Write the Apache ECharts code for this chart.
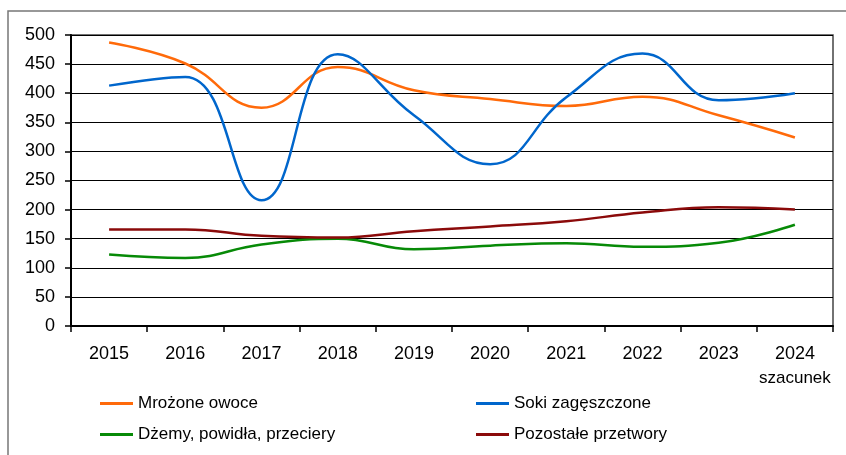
<!DOCTYPE html>
<html><head><meta charset="utf-8">
<script src="https://cdn.jsdelivr.net/npm/echarts@6/dist/echarts.min.js"></script>
<style>html,body{margin:0;padding:0;background:#fff}#c{width:846px;height:455px}</style>
</head><body><div id="c"></div>
<script>
const categories = ['2015','2016','2017','2018','2019','2020','2021','2022','2023','2024'];
const lastNote = 'szacunek';
const yTicks = [0,50,100,150,200,250,300,350,400,450,500];
const mrozone = [487,451,375,445,405,390,378,394,362,324];
const soki = [413,428,216,467,362,278,393,468,388,400];
const dzemy = [123,117,140,150,132,138,142,136,143,174];
const pozostale = [166,166,155,152,163,171,180,195,204,200];
const names = ['Mrożone owoce','Soki zagęszczone','Dżemy, powidła, przeciery','Pozostałe przetwory'];
const colors = ['#FF6A0A','#0066CC','#078A07','#8B0A0A'];

const chart = echarts.init(document.getElementById('c'), null, {renderer:'canvas'});
const font = 'Liberation Sans, Arial, sans-serif';
function s(name, data, color){
  return {name, type:'line', data, smooth:0.45, symbol:'none',
    lineStyle:{color, width:2.5}, itemStyle:{color}};
}
chart.setOption({
  animation:false,
  graphic:[{type:'rect', shape:{x:8,y:11,width:900,height:500},
    style:{fill:'none', stroke:'#777', lineWidth:1.5}, silent:true, z:-1}],
  grid:{left:71, top:35, right:13, height:291, show:true, borderColor:'#444', borderWidth:1.5, containLabel:false},
  xAxis:{type:'category', data:categories, boundaryGap:true,
    axisLine:{lineStyle:{color:'#000', width:2}},
    axisTick:{show:true, length:6, interval:0, lineStyle:{color:'#000', width:1.5}},
    axisLabel:{color:'#000', fontSize:18, fontFamily:font, margin:16, lineHeight:25, interval:0,
      formatter:(v,i)=> i===categories.length-1 ? v+'\n'+'{n|'+lastNote+'}' : v,
      rich:{n:{fontSize:17, fontFamily:font, color:'#000', lineHeight:22}}}},
  yAxis:{type:'value', min:yTicks[0], max:yTicks[yTicks.length-1], interval:50,
    axisLine:{show:true, lineStyle:{color:'#000', width:2}},
    axisTick:{show:true, length:6, lineStyle:{color:'#000', width:1.5}},
    axisLabel:{color:'#000', fontSize:18, fontFamily:font, margin:16},
    splitLine:{lineStyle:{color:'#000', width:1}}},
  legend:[
    {data:[names[0],names[2]], orient:'vertical', left:95, top:390, itemWidth:33, itemHeight:3, icon:'rect', itemGap:14,
      textStyle:{fontSize:17, fontFamily:font, color:'#000'}},
    {data:[names[1],names[3]], orient:'vertical', left:471, top:390, itemWidth:33, itemHeight:3, icon:'rect', itemGap:14,
      textStyle:{fontSize:17, fontFamily:font, color:'#000'}}
  ],
  series:[s(names[0],mrozone,colors[0]), s(names[1],soki,colors[1]), s(names[2],dzemy,colors[2]), s(names[3],pozostale,colors[3])]
});
</script></body></html>
